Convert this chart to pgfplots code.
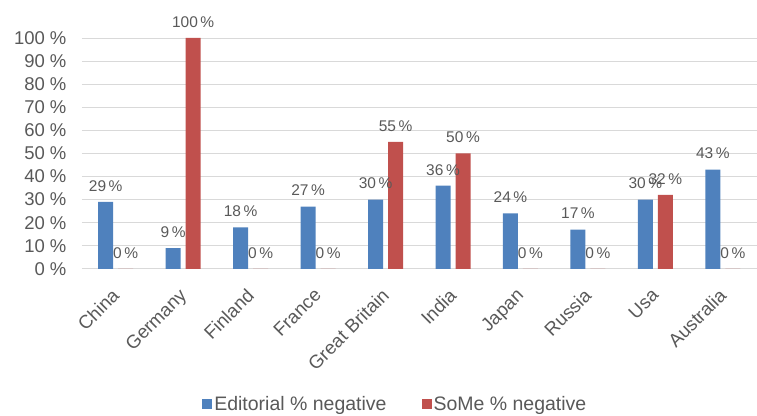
\documentclass[border=0pt]{standalone}
\usepackage{pgfplots}
\pgfplotsset{compat=1.18}
\usepackage{fontspec}
\setmainfont{Liberation Sans}
\definecolor{edblue}{HTML}{4F81BD}
\definecolor{somered}{HTML}{C0504D}
\definecolor{txtgray}{HTML}{595959}
\definecolor{gridgray}{HTML}{D9D9D9}
\begin{document}
\begin{tikzpicture}
\begin{axis}[
  scale only axis,
  width=675pt, height=231pt,
  xmin=-0.5, xmax=9.5,
  ymin=0, ymax=100,
  ybar, bar width=15pt,
  xtick=data,
  xticklabels={China,Germany,Finland,France,Great Britain,India,Japan,Russia,Usa,Australia},
  x tick label style={xshift=-5pt, yshift=-17pt, rotate=45, anchor=north east, font=\fontsize{18.7}{20}\selectfont, text=txtgray, inner sep=1pt},
  ytick={0,10,...,100},
  yticklabel={\pgfmathprintnumber{\tick}~\%},
  y tick label style={font=\fontsize{18.5}{20}\selectfont, text=txtgray, xshift=-12pt},
  /pgf/number format/assume math mode=true,
  ymajorgrids,
  grid style={gridgray, line width=0.8pt},
  axis line style={draw=none},
  axis x line*=bottom,
  major tick length=0pt,
  nodes near coords={\pgfmathprintnumber{\pgfplotspointmeta}\,\%},
  nodes near coords style={font=\fontsize{15.5}{17}\selectfont, text=txtgray, yshift=7pt},
  legend style={at={(0.4645,-0.585)}, anchor=center, draw=none, legend columns=2,
    font=\fontsize{19.5}{21}\selectfont, text=txtgray,
    /tikz/every even column/.append style={column sep=33pt}},
  legend image code/.code={\fill[#1] (0pt,-5pt) rectangle (10pt,5pt);},
  clip=false,
]
\addplot[fill=edblue, draw=none, bar shift=-10pt] coordinates {(0,29) (1,9) (2,18) (3,27) (4,30) (5,36) (6,24) (7,17) (8,30) (9,43)};
\addplot[fill=somered, draw=none, bar shift=10pt] coordinates {(0,0) (1,100) (2,0) (3,0) (4,55) (5,50) (6,0) (7,0) (8,32) (9,0)};
\legend{Editorial \% negative, SoMe \% negative}
\end{axis}
\useasboundingbox (-82pt,-145pt) rectangle (675pt,269pt);
\end{tikzpicture}
\end{document}
